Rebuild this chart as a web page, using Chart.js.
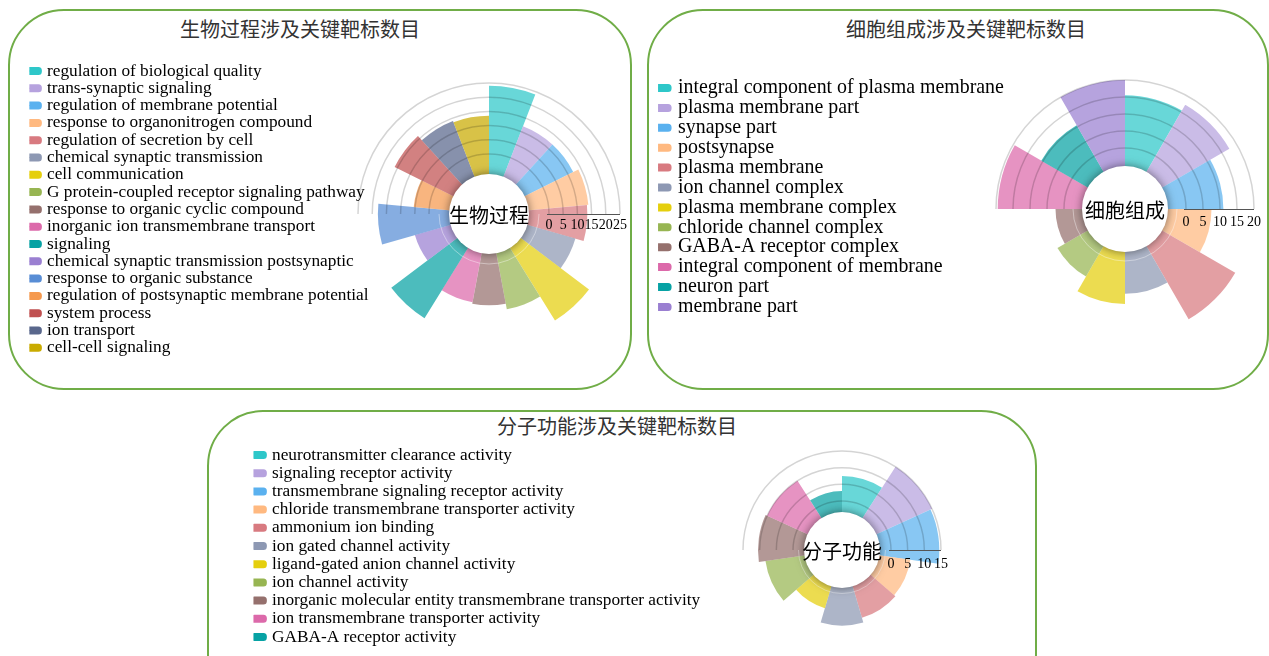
<!DOCTYPE html>
<html>
<head>
<meta charset="utf-8">
<script src="https://cdn.jsdelivr.net/npm/chart.js@4.4.1/dist/chart.umd.min.js"></script>
<style>
  body { margin: 0; width: 1269px; height: 656px; overflow: hidden; background: #fff; position: relative; }
  .panel { position: absolute; box-sizing: border-box; border: 2px solid #70ad47; border-radius: 56px; }
  .title { position: absolute; width: 400px; text-align: center; font: 20px/20px "Noto Sans CJK SC", sans-serif; color: #333; }
  canvas { position: absolute; }
</style>
</head>
<body>
<div class="panel" style="left:8px;top:9px;width:624px;height:381px"></div>
<div class="panel" style="left:647px;top:9px;width:622px;height:381px"></div>
<div class="panel" style="left:207px;top:410px;width:830px;height:300px"></div>

<div class="title" style="left:100px;top:19px">生物过程涉及关键靶标数目</div>
<div class="title" style="left:766px;top:19px">细胞组成涉及关键靶标数目</div>
<div class="title" style="left:417px;top:416px">分子功能涉及关键靶标数目</div>

<canvas id="bp" width="620" height="340" style="left:10px;top:45px"></canvas>
<canvas id="cc" width="618" height="340" style="left:649px;top:45px"></canvas>
<canvas id="mf" width="826" height="216" style="left:209px;top:440px"></canvas>

<script>
// macarons palette
var palette = ["#2ec7c9", "#b6a2de", "#5ab1ef", "#ffb980", "#d87a80", "#8d98b3", "#e5cf0d", "#97b552",
  "#95706d", "#dc69aa", "#07a2a4", "#9a7fd1", "#588dd5", "#f5994e", "#c05050", "#59678c", "#c9ab00"];

// 生物过程
var bpLabels = ["regulation of biological quality", "trans-synaptic signaling", "regulation of membrane potential",
  "response to organonitrogen compound", "regulation of secretion by cell", "chemical synaptic transmission",
  "cell communication", "G protein-coupled receptor signaling pathway", "response to organic cyclic compound",
  "inorganic ion transmembrane transport", "signaling", "chemical synaptic transmission postsynaptic",
  "response to organic substance", "regulation of postsynaptic membrane potential", "system process",
  "ion transport", "cell-cell signaling"];
var bpValues = [24, 12, 12, 14, 13.5, 10.5, 23, 13, 11, 10.5, 22, 6, 18, 5.5, 16, 14, 13.5];
var bpTicks = [0, 5, 10, 15, 20, 25];

// 细胞组成
var ccLabels = ["integral component of plasma membrane", "plasma membrane part", "synapse part", "postsynapse",
  "plasma membrane", "ion channel complex", "plasma membrane complex", "chloride channel complex",
  "GABA-A receptor complex", "integral component of membrane", "neuron part", "membrane part"];
var ccValues = [15.5, 17.5, 11, 7.5, 19.5, 7, 10, 5, 2.5, 19.5, 10.5, 20];
var ccTicks = [0, 5, 10, 15, 20];

// 分子功能
var mfLabels = ["neurotransmitter clearance activity", "signaling receptor activity",
  "transmembrane signaling receptor activity", "chloride transmembrane transporter activity",
  "ammonium ion binding", "ion gated channel activity", "ligand-gated anion channel activity",
  "ion channel activity", "inorganic molecular entity transmembrane transporter activity",
  "ion transmembrane transporter activity", "GABA-A receptor activity"];
var mfValues = [7.5, 15, 14.5, 6, 6.5, 8, 3.5, 8.5, 10.5, 10, 3];
var mfTicks = [0, 5, 10, 15];

function fade(hex, a) {
  var n = parseInt(hex.slice(1), 16);
  return "rgba(" + (n >> 16) + "," + ((n >> 8) & 255) + "," + (n & 255) + "," + a + ")";
}

// puts the rose where the picture has it, then draws half rings, hole, axis and centre text
var rosePlugin = {
  id: "rose",
  afterLayout: function (chart, args, o) {
    var s = chart.scales.r;
    s.xCenter = o.cx;
    s.yCenter = o.cy;
    s.drawingArea = o.radius;
  },
  afterDatasetsDraw: function (chart, args, o) {
    var s = chart.scales.r, ctx = chart.ctx;
    var cx = s.xCenter, cy = s.yCenter;
    var r0 = s.getDistanceFromCenterForValue(0);
    var rEnd = s.getDistanceFromCenterForValue(o.ticks[o.ticks.length - 1]);
    ctx.save();
    ctx.strokeStyle = "rgba(0,0,0,0.17)";
    ctx.lineWidth = 1.5;
    o.ticks.forEach(function (v) {
      ctx.beginPath();
      ctx.arc(cx, cy, s.getDistanceFromCenterForValue(v), Math.PI, 2 * Math.PI);
      ctx.stroke();
    });
    ctx.strokeStyle = "rgba(255,255,255,0.4)";
    ctx.lineWidth = 1;
    ctx.beginPath();
    ctx.arc(cx, cy, (o.hole + r0) / 2, 0, Math.PI);
    ctx.stroke();

    ctx.shadowColor = "rgba(0,0,0,0.5)";
    ctx.shadowBlur = 10;
    ctx.fillStyle = "#fff";
    ctx.beginPath();
    ctx.arc(cx, cy, o.hole, 0, 2 * Math.PI);
    ctx.fill();
    ctx.shadowColor = "transparent";
    ctx.shadowBlur = 0;

    ctx.strokeStyle = "#555";
    ctx.lineWidth = 1;
    ctx.beginPath();
    ctx.moveTo(cx + r0 - 2, cy + 0.5);
    ctx.lineTo(cx + rEnd, cy + 0.5);
    ctx.stroke();

    ctx.fillStyle = "#000";
    ctx.textAlign = "center";
    ctx.textBaseline = "middle";
    ctx.font = '14px "Liberation Serif"';
    o.ticks.forEach(function (v) {
      ctx.fillText(String(v), cx + s.getDistanceFromCenterForValue(v), cy + o.tickOffset);
    });
    ctx.font = '20px "Noto Sans CJK SC"';
    ctx.fillText(o.text, cx, cy + 1);
    ctx.restore();
  }
};

function makeRose(id, labels, values, ticks, cfg) {
  var max = ticks[ticks.length - 1];
  var min = -max * cfg.r0 / (cfg.radius - cfg.r0);
  return new Chart(document.getElementById(id), {
    type: "polarArea",
    data: {
      labels: labels,
      datasets: [{
        data: values,
        backgroundColor: labels.map(function (l, i) { return fade(palette[i], 0.72); }),
        borderWidth: 0,
        clip: false
      }]
    },
    options: {
      responsive: false,
      animation: false,
      events: [],
      devicePixelRatio: 1,
      layout: { padding: { left: cfg.padLeft, top: cfg.padTop, right: 0, bottom: 0 } },
      scales: {
        r: {
          min: min, max: max, bounds: "data", startAngle: 0,
          grid: { display: false }, angleLines: { display: false },
          ticks: { display: false }, pointLabels: { display: false }
        }
      },
      plugins: {
        legend: {
          position: "left",
          align: "start",
          maxWidth: 600,
          labels: {
            font: { family: "Liberation Serif", size: cfg.fontSize },
            color: "#000",
            boxWidth: cfg.boxWidth,
            boxHeight: 1,
            padding: cfg.gap,
            generateLabels: function (chart) {
              return chart.data.labels.map(function (text, i) {
                return { text: text, fillStyle: palette[i], strokeStyle: palette[i], lineWidth: 7,
                  lineJoin: "round", fontColor: "#000", hidden: false, index: i };
              });
            }
          }
        },
        tooltip: { enabled: false },
        rose: { cx: cfg.cx, cy: cfg.cy, radius: cfg.radius, hole: cfg.hole, ticks: ticks,
          tickOffset: cfg.tickOffset, text: cfg.text }
      }
    },
    plugins: [rosePlugin]
  });
}

makeRose("bp", bpLabels, bpValues, bpTicks, {
  cx: 479, cy: 169, radius: 131, r0: 60, hole: 40, tickOffset: 11, text: "生物过程",
  padLeft: 19.35, padTop: 17.35, fontSize: 17.3, boxWidth: 9, gap: 0
});
makeRose("cc", ccLabels, ccValues, ccTicks, {
  cx: 476, cy: 164, radius: 129, r0: 61, hole: 43, tickOffset: 13, text: "细胞组成",
  padLeft: 9.05, padTop: 33.05, fontSize: 19.9, boxWidth: 10, gap: 0
});
makeRose("mf", mfLabels, mfValues, mfTicks, {
  cx: 633, cy: 110, radius: 99, r0: 49, hole: 38, tickOffset: 14, text: "分子功能",
  padLeft: 44.45, padTop: 5.45, fontSize: 17.3, boxWidth: 9, gap: 0.9
});
</script>
</body>
</html>
